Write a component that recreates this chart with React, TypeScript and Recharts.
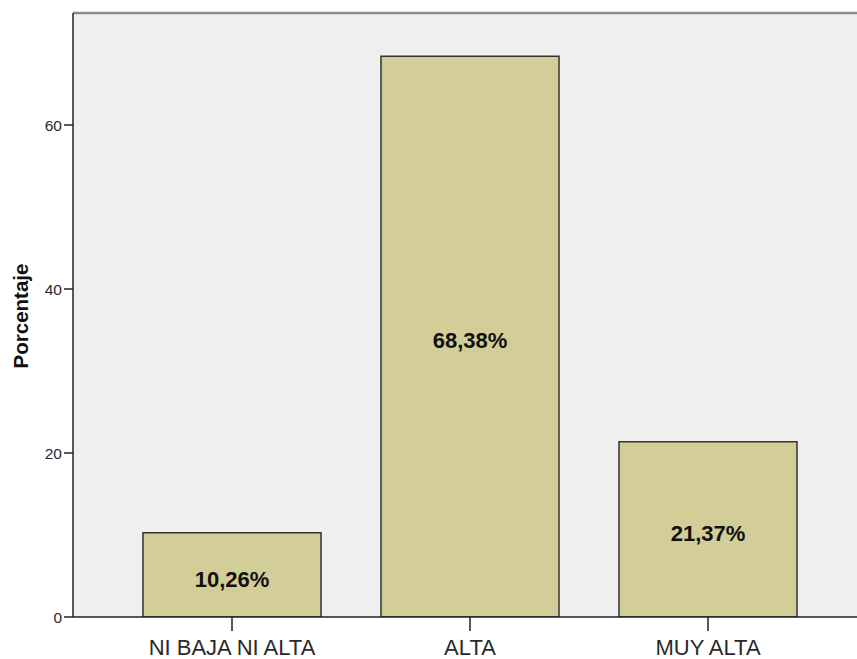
import React from 'react';
import { BarChart, Bar, XAxis, YAxis, CartesianGrid, LabelList, ReferenceLine } from 'recharts';

const categories = ['NI BAJA NI ALTA', 'ALTA', 'MUY ALTA'];
const percentages = [10.26, 68.38, 21.37];
const yTicks = [0, 20, 40, 60];
const yMax = 73.66;

const data = categories.map((c, i) => ({ name: c, value: percentages[i] }));

const FONT = 'Arial, "Liberation Sans", sans-serif';

const fmt = (v: any) => `${Number(v).toFixed(2).replace('.', ',')}%`;

export default function App() {
  return (
    <div style={{ position: 'absolute', left: 0, top: 0, background: '#fff' }}>
      <BarChart
        width={857}
        height={659}
        data={data}
        margin={{ top: 13, right: 0, bottom: 0, left: 0 }}
        barSize={178}
      >
        <CartesianGrid horizontal={false} vertical={false} fill="#efefef" />
        <XAxis
          dataKey="name"
          padding={{ left: 40, right: 30 }}
          height={42}
          tickSize={14}
          tickMargin={8}
          axisLine={{ stroke: '#222', strokeWidth: 1.5 }}
          tickLine={{ stroke: '#222', strokeWidth: 1.5 }}
          tick={{ fill: '#2a2a2a', fontSize: 22, fontFamily: FONT }}
          interval={0}
        />
        <YAxis
          width={73}
          domain={[0, yMax]}
          ticks={yTicks}
          allowDataOverflow
          tickSize={9}
          tickMargin={2}
          axisLine={{ stroke: '#222', strokeWidth: 1.5 }}
          tickLine={{ stroke: '#222', strokeWidth: 1.5 }}
          tick={{ fill: '#2a2a2a', fontSize: 15.5, fontFamily: FONT }}
          label={{
            content: () => (
              <text
                x={28}
                y={316}
                transform="rotate(-90 28 316)"
                textAnchor="middle"
                fontFamily={FONT}
                fontWeight="bold"
                fontSize={20.5}
                fill="#111"
              >
                Porcentaje
              </text>
            ),
          }}
        />
        <ReferenceLine y={yMax} stroke="#8a8a8a" strokeWidth={2.5} ifOverflow="visible" />
        <Bar dataKey="value" fill="#d3ce97" stroke="#333" strokeWidth={1.5} isAnimationActive={false}>
          <LabelList
            dataKey="value"
            position="center"
            formatter={fmt}
            fill="#111"
            fontFamily={FONT}
            fontWeight="bold"
            fontSize={22}
            dy={4}
          />
        </Bar>
      </BarChart>
    </div>
  );
}
